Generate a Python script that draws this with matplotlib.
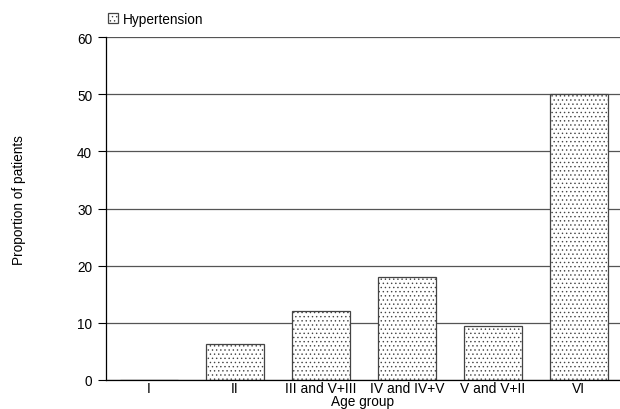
import matplotlib
matplotlib.use("Agg")
import matplotlib.pyplot as plt

plt.rcParams['font.family'] = ['Liberation Sans', 'DejaVu Sans']
plt.rcParams['hatch.linewidth'] = 0.5
plt.rcParams['hatch.color'] = '#111111'

categories = ["I", "II", "III and V+III", "IV and IV+V", "V and V+II", "VI"]
values = [0, 6.2, 12.1, 18.0, 9.4, 50.0]
yticks = [0, 10, 20, 30, 40, 50, 60]

fig = plt.figure(figsize=(6.2, 4.1), dpi=100)
ax = fig.add_axes([0.171, 0.071, 0.829, 0.836])

for y in yticks:
    ax.axhline(y, color='#555555', lw=0.9, zorder=0)

bars = ax.bar(range(len(categories)), values, width=0.67, color='white',
              edgecolor='#444444', linewidth=0.9, hatch='....', zorder=2,
              label='Hypertension')

ax.set_xlim(-0.5, 5.48)
ax.set_ylim(0, 60)
ax.set_yticks(yticks)
ax.set_xticks(range(len(categories)))
ax.set_xticklabels(categories)
ax.tick_params(axis='x', length=0, pad=1, labelsize=10)
ax.tick_params(axis='y', length=6, width=0.8, labelsize=9.8, pad=4)
for s in ['top', 'right']:
    ax.spines[s].set_visible(False)
ax.spines['left'].set_linewidth(0.9)
ax.spines['bottom'].set_linewidth(0.9)

ax.set_xlabel("Age group", fontsize=9.8, labelpad=-1)
fig.text(0.031, 0.512, "Proportion of patients", rotation=90, fontsize=9.8,
         ha='center', va='center')

fig.legend(handles=[bars], labels=['Hypertension'], loc='upper left',
           bbox_to_anchor=(0.169, 0.975), frameon=False, fontsize=9.8,
           handlelength=0.8, handleheight=0.8, handletextpad=0.3,
           borderaxespad=0, borderpad=0.2)

fig.savefig("out.png", dpi=100)
